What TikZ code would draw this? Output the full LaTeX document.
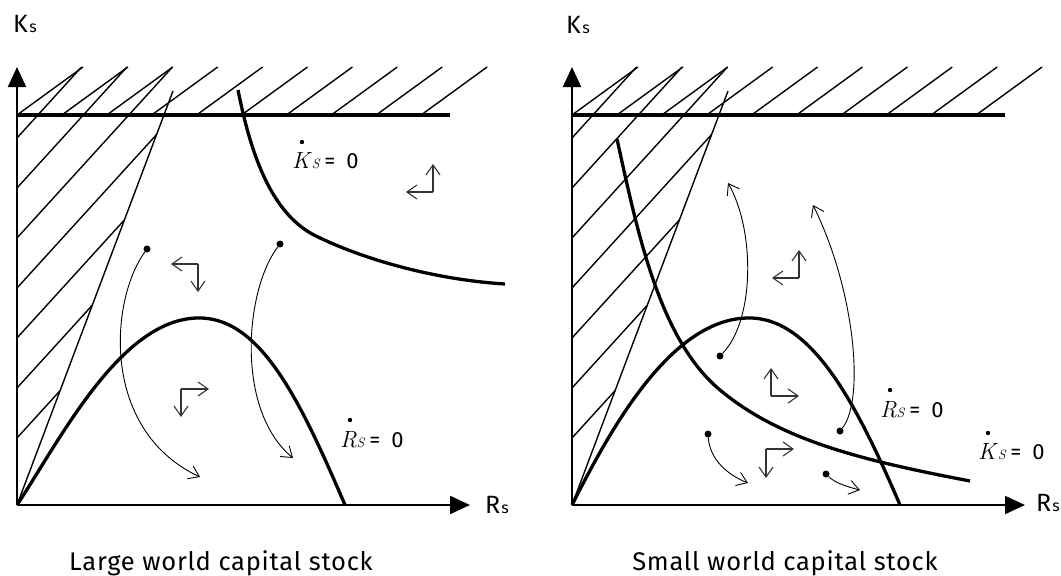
\documentclass[tikz,border=0pt]{standalone}
\usepackage{fontspec}
\setsansfont{Fira Sans}
\newfontfamily\capfont[LetterSpace=3]{Fira Sans}
\usetikzlibrary{arrows.meta}
\newcommand{\subs}{\fontsize{16}{16}\selectfont s}
\newcommand{\isub}[1]{{\fontsize{13.5}{13.5}\selectfont\itshape #1}}
\newcommand{\eqzero}{\hspace{5pt}{\sffamily\fontsize{22}{26}\selectfont =\hspace{11pt}0}}
\begin{document}
\begin{tikzpicture}[x=1pt,y=-1pt,
  thickcurve/.style={line width=3.3pt},
  bandline/.style={line width=4pt},
  axisline/.style={line width=2pt, -{Triangle[length=20pt,width=18pt]}},
  hatch/.style={line width=1.4pt},
  traj/.style={line width=0.9pt, -{Straight Barb[length=10pt,width=14pt]}},
  corner/.style={line width=1.1pt, black!80, -{Straight Barb[length=10pt,width=14pt]}},
  dotnode/.style={circle, fill, inner sep=0pt, minimum size=7pt},
  accdot/.style={fill},
  axlabel/.style={font=\sffamily\fontsize{25}{26}\selectfont, anchor=base west, inner sep=0pt},
  eqlabel/.style={font=\fontsize{23.5}{26}\selectfont, anchor=base west, inner sep=0pt},
  caption/.style={font=\capfont\fontsize{25.5}{28}\selectfont, anchor=base, inner sep=0pt}]
\useasboundingbox (0,0) rectangle (1061,576);

% ================= LEFT PANEL =================
\coordinate (O1) at (17,505);
\coordinate (Y1) at (17,67);
\coordinate (X1) at (470,505);
\coordinate (B1a) at (17,115);
\coordinate (B1b) at (450,115);
\coordinate (S1b) at (173,91);

% band hatching
\foreach \k in {0,...,9}
  \draw[hatch] ({17+44.9*\k},115) -- ({83+44.9*\k},67);
% left region hatching
\draw[hatch] (17,138) -- (81.5,67);
\draw[hatch] (17,188) -- (127,67);
\draw[hatch] (17,238) -- (172.5,67);
\draw[hatch] (17,288) -- (156.7,134.4);
\draw[hatch] (17,338) -- (124.5,219.8);
\draw[hatch] (17,388) -- (92.3,305.2);
\draw[hatch] (17,438) -- (60.1,390.6);
\draw[hatch] (O1) -- (S1b);

\draw[bandline] (B1a) -- (B1b);
\draw[axisline] (O1) -- (Y1);
\draw[axisline] (O1) -- (X1);

% Kdot = 0 curve
\draw[thickcurve] (238,90) .. controls (250,150) and (270,215) .. (318,237)
                 .. controls (370,262) and (440,280) .. (505,284);
% Rdot = 0 hump
\draw[thickcurve] (O1) .. controls (60,440) and (120,320) .. (197,318)
                 .. controls (260,316) and (300,400) .. (345,505);

% trajectories
\node[dotnode] (dA1) at (147,249) {};
\coordinate (tA1) at (200,477);
\draw[traj] (dA1) .. controls (110,300) and (100,430) .. (tA1);
\node[dotnode] (dB1) at (280,244) {};
\coordinate (tB1) at (293,458);
\draw[traj] (dB1) .. controls (245,290) and (235,410) .. (tB1);

% corner arrows
\coordinate (c1) at (433,192); \coordinate (c1u) at (433,164); \coordinate (c1l) at (406,192);
\draw[corner] (c1) -- (c1u); \draw[corner] (c1) -- (c1l);
\coordinate (c2) at (198,264); \coordinate (c2l) at (171,264); \coordinate (c2d) at (198,292);
\draw[corner] (c2) -- (c2l); \draw[corner] (c2) -- (c2d);
\coordinate (c3) at (181,389); \coordinate (c3r) at (209,389); \coordinate (c3d) at (181,417);
\draw[corner] (c3) -- (c3r); \draw[corner] (c3) -- (c3d);

% labels
\node[axlabel] (ks1) at (13,32) {K\hspace{1.5pt}\subs};
\node[axlabel] (rs1) at (485,513) {R\hspace{1pt}\subs};
\node[eqlabel] (kd1) at (292,168) {\textit{K}\isub{S}\eqzero};
\fill[accdot] ([shift={(10,-26)}]kd1.base west) circle (2.2pt);
\node[eqlabel] (rd1) at (340,447) {\textit{R}\isub{S}\eqzero};
\fill[accdot] ([shift={(10,-27)}]rd1.base west) circle (2.2pt);
\node[caption] (cap1) at (221,570) {Large world capital stock};

% ================= RIGHT PANEL =================
\coordinate (O2) at (572,505);
\coordinate (Y2) at (572,67);
\coordinate (X2) at (1025,505);
\coordinate (B2a) at (572,115);
\coordinate (B2b) at (1005,115);
\coordinate (S2b) at (728,91);

\foreach \k in {0,...,9}
  \draw[hatch] ({572+44.9*\k},115) -- ({638+44.9*\k},67);
\draw[hatch] (572,138) -- (636.5,67);
\draw[hatch] (572,188) -- (682,67);
\draw[hatch] (572,238) -- (727.5,67);
\draw[hatch] (572,288) -- (711.7,134.4);
\draw[hatch] (572,338) -- (679.5,219.8);
\draw[hatch] (572,388) -- (647.3,305.2);
\draw[hatch] (572,438) -- (615.1,390.6);
\draw[hatch] (O2) -- (S2b);

\draw[bandline] (B2a) -- (B2b);
\draw[axisline] (O2) -- (Y2);
\draw[axisline] (O2) -- (X2);

% Kdot = 0 curve
\draw[thickcurve] (617,139) .. controls (638,235) and (660,340) .. (720,390)
                 .. controls (780,440) and (860,460) .. (970,481);
% Rdot = 0 hump
\draw[thickcurve] (O2) .. controls (610,430) and (670,320) .. (747,318)
                 .. controls (810,316) and (855,400) .. (900,505);

% trajectories
\node[dotnode] (dA2) at (720,356) {};
\coordinate (tA2) at (728,183);
\draw[traj] (dA2) .. controls (755,320) and (755,230) .. (tA2);
\node[dotnode] (dB2) at (840,431) {};
\coordinate (tB2) at (813,205);
\draw[traj] (dB2) .. controls (865,400) and (855,290) .. (tB2);
\node[dotnode] (dC2) at (708,434) {};
\coordinate (tC2) at (748,483);
\draw[traj] (dC2) .. controls (710,460) and (728,475) .. (tC2);
\node[dotnode] (dD2) at (826,474) {};
\coordinate (tD2) at (860,490);
\draw[traj] (dD2) .. controls (835,483) and (848,487) .. (tD2);

% corner arrows
\coordinate (c4) at (799,278); \coordinate (c4u) at (799,250); \coordinate (c4l) at (772,278);
\draw[corner] (c4) -- (c4u); \draw[corner] (c4) -- (c4l);
\coordinate (c5) at (771,396); \coordinate (c5u) at (771,368); \coordinate (c5r) at (799,396);
\draw[corner] (c5) -- (c5u); \draw[corner] (c5) -- (c5r);
\coordinate (c6) at (766,449); \coordinate (c6r) at (794,449); \coordinate (c6d) at (766,478);
\draw[corner] (c6) -- (c6r); \draw[corner] (c6) -- (c6d);

% labels
\node[axlabel] (ks2) at (566,33) {K\hspace{1.5pt}\subs};
\node[axlabel] (rs2) at (1036,511) {R\hspace{1pt}\subs};
\node[eqlabel] (rd2) at (880,417) {\textit{R}\isub{S}\eqzero};
\fill[accdot] ([shift={(10,-27)}]rd2.base west) circle (2.2pt);
\node[eqlabel] (kd2) at (978,459) {\textit{K}\isub{S}\eqzero};
\fill[accdot] ([shift={(10,-26)}]kd2.base west) circle (2.2pt);
\node[caption] (cap2) at (785,570) {Small world capital stock};
\end{tikzpicture}
\end{document}
